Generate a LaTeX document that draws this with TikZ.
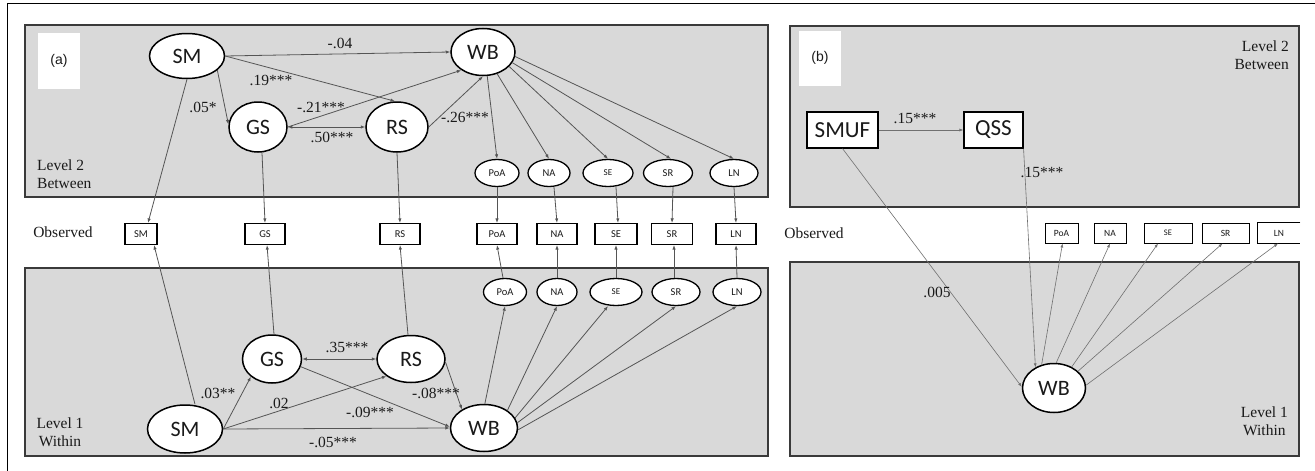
\documentclass[tikz,border=0pt]{standalone}
\usepackage{fontspec}
\setmainfont{Liberation Serif}
\newfontfamily\carl{Carlito}
\newfontfamily\arialf{Liberation Sans}
\usetikzlibrary{arrows.meta,shapes.geometric}
\definecolor{panelfill}{HTML}{D9D9D9}
\definecolor{panelline}{HTML}{3A3A3A}
\definecolor{edgec}{HTML}{555555}
\definecolor{edgeb}{HTML}{707070}
\definecolor{txt}{HTML}{1A1A1A}
\begin{document}
\begin{tikzpicture}[x=1pt,y=-1pt,
  panel/.style={draw=panelline, fill=panelfill, line width=1.3pt},
  lat/.style={ellipse, draw=black, fill=white, line width=1.5pt, inner sep=0pt, text=txt,
    font=\carl\fontsize{22}{22}\selectfont},
  slat/.style={ellipse, draw=black, fill=white, line width=1.3pt, inner sep=0pt, text=txt,
    minimum height=27pt, font=\carl\fontsize{10.5}{10.5}\selectfont},
  obs/.style={rectangle, draw=black, fill=white, line width=1.1pt, inner sep=0pt, text=txt,
    minimum height=21pt, font=\carl\fontsize{10.5}{10.5}\selectfont},
  obsb/.style={rectangle, draw=black, fill=white, line width=0.9pt, inner sep=0pt, text=txt,
    minimum height=20pt, font=\carl\fontsize{9.5}{9.5}\selectfont},
  mbox/.style={rectangle, draw=black, fill=white, line width=1.1pt, inner sep=0pt, text=txt,
    minimum height=36pt, font=\carl\fontsize{23}{23}\selectfont},
  lab/.style={inner sep=0pt, text=txt, font=\fontsize{15.5}{15.5}\selectfont},
  lvl/.style={inner sep=0pt, text=txt, font=\fontsize{15.5}{18.5}\selectfont},
  tagbox/.style={rectangle, fill=white, inner sep=0pt, text=txt, font=\arialf\fontsize{14}{14}\selectfont},
  arr/.style={draw=edgec, line width=0.8pt, -{Latex[length=4.5pt,width=3.4pt]}},
  darr/.style={draw=edgec, line width=0.8pt, {Latex[length=4.5pt,width=3.4pt]}-{Latex[length=4.5pt,width=3.4pt]}},
  barr/.style={draw=edgeb, line width=0.6pt, -{Latex[length=4pt,width=3pt]}}
]
\useasboundingbox (0,0) rectangle (1315,471);
\fill[white] (0,0) rectangle (1315,471);
% outer frame
\draw[black, line width=1pt] (7,471) -- (7,3) -- (1315,3);

% ---------------- panel (a) ----------------
\draw[panel] (25,25) rectangle (768,197);
\draw[panel] (25,268) rectangle (768,456);
\node[tagbox, minimum width=42pt, minimum height=56pt] (taga) at (59,61) {(a)};
\node[lvl, anchor=west, align=left] (lv2a) at (37,174) {Level 2\\Between};
\node[lvl, align=center] (lv1a) at (60,432) {Level 1\\Within};
\node[lvl] (obsa) at (63,232) {Observed};

% top latent
\node[lat, minimum width=75pt, minimum height=45pt] (SMt) at (187,56) {SM};
\node[lat, minimum width=58pt, minimum height=50pt] (GSt) at (258,127) {GS};
\node[lat, minimum width=62pt, minimum height=50pt] (RSt) at (397,127) {RS};
\node[lat, minimum width=64pt, minimum height=47pt] (WBt) at (483,52) {WB};
\node[slat, minimum width=44pt] (PoAt) at (497,173) {PoA};
\node[slat, minimum width=42pt] (NAt) at (549,173) {NA};
\node[slat, minimum width=50pt, font=\carl\fontsize{9}{9}\selectfont] (SEt) at (608,173) {SE};
\node[slat, minimum width=49pt] (SRt) at (668,173) {SR};
\node[slat, minimum width=48pt] (LNt) at (734,173) {LN};

% observed
\node[obs, minimum width=32pt] (SMo) at (141,234) {SM};
\node[obs, minimum width=40pt] (GSo) at (265,234) {GS};
\node[obs, minimum width=40pt] (RSo) at (400,234) {RS};
\node[obs, minimum width=40pt] (PoAo) at (497,234) {PoA};
\node[obs, minimum width=40pt] (NAo) at (557,234) {NA};
\node[obs, minimum width=42pt] (SEo) at (616,234) {SE};
\node[obs, minimum width=41pt] (SRo) at (672,234) {SR};
\node[obs, minimum width=40pt] (LNo) at (736,234) {LN};

% bottom latent
\node[slat, minimum width=43pt] (PoAb) at (505,292) {PoA};
\node[slat, minimum width=40pt] (NAb) at (557,292) {NA};
\node[slat, minimum width=52pt, font=\carl\fontsize{9}{9}\selectfont] (SEb) at (616,292) {SE};
\node[slat, minimum width=48pt] (SRb) at (676,292) {SR};
\node[slat, minimum width=48pt] (LNb) at (737,292) {LN};
\node[lat, minimum width=59pt, minimum height=48pt] (GSb) at (272,359) {GS};
\node[lat, minimum width=68pt, minimum height=47pt] (RSb) at (411,359) {RS};
\node[lat, minimum width=75pt, minimum height=48pt] (SMb) at (185,429) {SM};
\node[lat, minimum width=67pt, minimum height=47pt] (WBb) at (484,428) {WB};

% top edges
\draw[arr] (SMt.east) -- (WBt.west);
\draw[arr] (SMt.east) -- ([xshift=-2pt]RSt.north);
\draw[arr] (SMt.-25) -- (GSt.175);
\draw[arr] (GSt.east) -- (WBt.220);
\draw[darr] (GSt.east) -- (RSt.west);
\draw[arr] (RSt.east) -- (WBt.south);
\draw[arr] (WBt.-80) -- (PoAt.north);
\draw[arr] (WBt.-57) -- (NAt.north);
\draw[arr] (WBt.-29) -- (SEt.north);
\draw[arr] (WBt.-20) -- ([xshift=3pt]SRt.north);
\draw[arr] (WBt.-8) -- (LNt.north);
\node[lab] (la1) at (340,43) {-.04};
\node[lab] (la2) at (271,80) {.19***};
\node[lab] (la3) at (203,107) {.05*};
\node[lab] (la4) at (321,107) {-.21***};
\node[lab] (la5) at (332,137) {.50***};
\node[lab] (la6) at (465,117) {-.26***};

% top to observed
\draw[arr] (SMt.south) -- ([xshift=7pt]SMo.north);
\draw[arr] ([xshift=4pt]GSt.south) -- (GSo.north);
\draw[arr] (RSt.south) -- (RSo.north);
\draw[arr] (PoAt.south) -- (PoAo.north);
\draw[arr] ([xshift=5pt]NAt.south) -- (NAo.north);
\draw[arr] ([xshift=8pt]SEt.south) -- ([xshift=2pt]SEo.north);
\draw[arr] ([xshift=5pt]SRt.south) -- (SRo.north);
\draw[arr] (LNt.south) -- (LNo.north);

% bottom to observed
\draw[arr] ([xshift=10pt]SMb.north) -- ([xshift=13pt]SMo.south);
\draw[arr] ([xshift=2pt]GSb.north) -- ([xshift=2pt]GSo.south);
\draw[arr] ([xshift=-3pt]RSb.north) -- (RSo.south);
\draw[arr] ([xshift=-2pt]PoAb.north) -- (PoAo.south);
\draw[arr] (NAb.north) -- (NAo.south);
\draw[arr] (SEb.north) -- (SEo.south);
\draw[arr] ([xshift=-2pt]SRb.north) -- ([xshift=2pt]SRo.south);
\draw[arr] (LNb.north) -- (LNo.south);

% bottom edges
\draw[darr] (GSb.east) -- (RSb.west);
\draw[arr] (SMb.east) -- (GSb.220);
\draw[arr] (SMb.east) -- (RSb.215);
\draw[arr] (SMb.east) -- (WBb.west);
\draw[arr] (GSb.-15) -- (WBb.178);
\draw[arr] (RSb.-5) -- (WBb.140);
\draw[arr] (WBb.88) -- (PoAb.south);
\draw[arr] (WBb.37) -- (NAb.south);
\draw[arr] (WBb.18) -- ([xshift=-8pt]SEb.south);
\draw[arr] (WBb.9) -- (SRb.south);
\draw[arr] (WBb.-3) -- (LNb.south);
\node[lab] (lb1) at (347,347) {.35***};
\node[lab] (lb2) at (218,393) {.03**};
\node[lab] (lb3) at (279,403) {.02};
\node[lab] (lb4) at (370,412) {-.09***};
\node[lab] (lb5) at (436,393) {-.08***};
\node[lab] (lb6) at (333,442) {-.05***};

% ---------------- panel (b) ----------------
\draw[panel] (790,26) rectangle (1299,207);
\draw[panel] (790,262) rectangle (1299,456);
\node[tagbox, minimum width=42pt, minimum height=55pt] (tagb) at (820,58) {(b)};
\node[lvl, anchor=east, align=right] (lv2b) at (1289,55) {Level 2\\Between};
\node[lvl, anchor=east, align=center] (lv1b) at (1288,421) {Level 1\\Within};
\node[lvl] (obsb) at (814,233) {Observed};

\node[mbox, minimum width=71pt] (SMUF) at (842.5,130) {SMUF};
\node[mbox, minimum width=59pt] (QSS) at (993.5,130) {QSS};
\node[lat, minimum width=63pt, minimum height=49pt] (WBr) at (1054,388) {WB};
\node[obsb, minimum width=33pt] (PoAr) at (1061.5,233) {PoA};
\node[obsb, minimum width=32pt] (NAr) at (1110,233) {NA};
\node[obsb, minimum width=48pt, font=\carl\fontsize{8.5}{8.5}\selectfont] (SEr) at (1168,233) {SE};
\node[obsb, minimum width=47pt] (SRr) at (1225.5,233) {SR};
\node[obsb, minimum width=42pt, draw=none] (LNr) at (1279,233) {LN};
\draw[black, line width=0.9pt] (LNr.north east) -- (LNr.north west) -- (LNr.south west) -- (LNr.south east);

\draw[barr] (SMUF.east) -- (QSS.west);
\draw[barr] (SMUF.south) -- (WBr.178);
\draw[barr] (QSS.south east) -- (WBr.132);
\draw[barr] (WBr.118) -- ([xshift=1pt]PoAr.south);
\draw[barr] (WBr.85) -- (NAr.south);
\draw[barr] (WBr.50) -- ([xshift=-10pt]SEr.south);
\draw[barr] (WBr.35) -- ([xshift=-3pt]SRr.south);
\draw[barr] (WBr.5) -- ([xshift=-1pt]LNr.south);
\node[lab] (lc1) at (915,118) {.15***};
\node[lab] (lc2) at (1042,172) {.15***};
\node[lab] (lc3) at (937,292) {.005};
\end{tikzpicture}
\end{document}
